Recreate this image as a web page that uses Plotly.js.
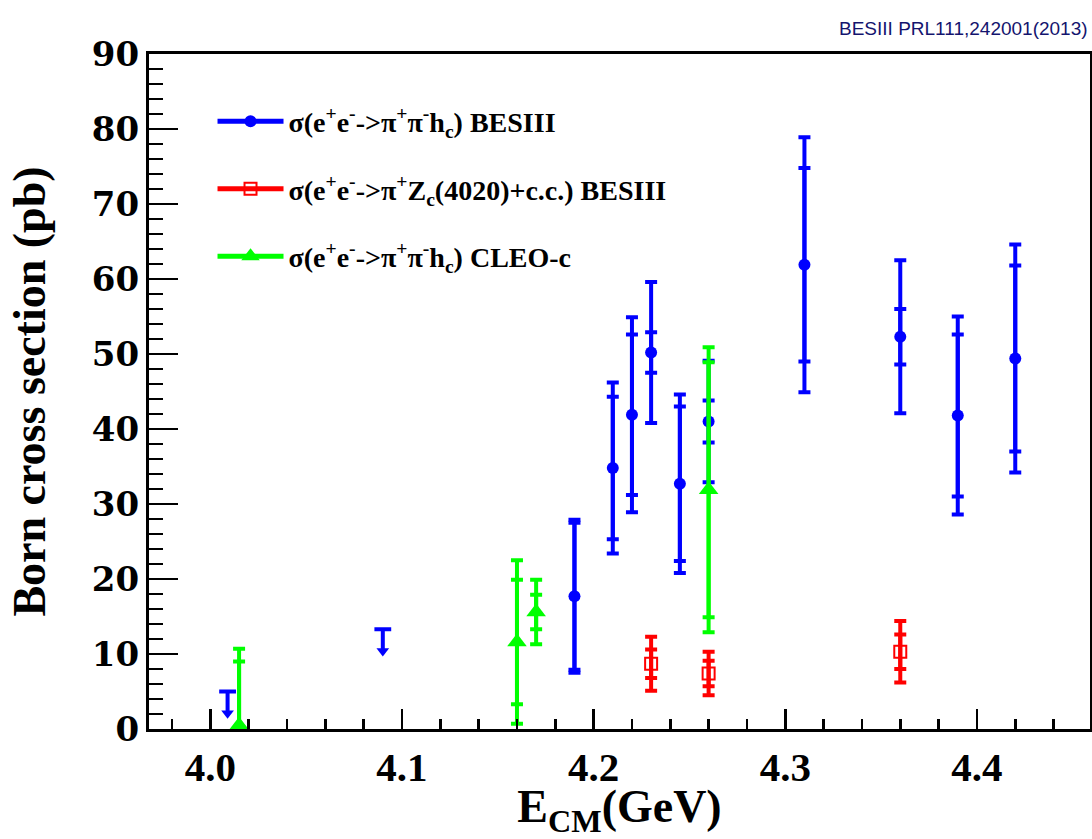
<!DOCTYPE html>
<html><head><meta charset="utf-8">
<script src="https://cdn.plot.ly/plotly-3.0.1.min.js"></script>
<style>body{margin:0;background:#fff}#chart{width:1092px;height:839px}</style>
</head><body><div id="chart"></div><script>
// BESIII sigma(e+e- -> pi+pi- hc)
const besE    = [4.19, 4.21, 4.22, 4.23, 4.245, 4.26, 4.31, 4.36, 4.39, 4.42];
const besV    = [17.7, 34.8, 41.9, 50.2, 32.7, 41.0, 61.9, 52.3, 41.8, 49.4];
const besStat = [9.8, 9.5, 10.7, 2.7, 10.3, 2.8, 12.9, 3.7, 10.8, 12.4];
const besTot  = [10.2, 11.4, 13.0, 9.4, 11.9, 8.1, 17.0, 10.2, 13.2, 15.2];
// BESIII upper limits
const ulE = [4.009, 4.09];
const ulV = [5.0, 13.3];
// BESIII sigma(e+e- -> pi+ Zc(4020) + c.c.)
const zcE    = [4.23, 4.26, 4.36];
const zcV    = [8.7, 7.4, 10.3];
const zcStat = [1.9, 1.7, 2.3];
const zcTot  = [3.6, 2.9, 4.1];
// CLEO-c sigma(e+e- -> pi+pi- hc)
const cleoE    = [4.015, 4.16, 4.17, 4.26];
const cleoV    = [0.5, 11.6, 15.6, 31.9];
const cleoStat = [8.5, 8.3, 2.3, 17.0];
const cleoTot  = [10.2, 10.9, 4.3, 19.0];

const legendNames = [
  'σ(e<sup>+</sup>e<sup>-</sup>-&gt;π<sup>+</sup>π<sup>-</sup>h<sub>c</sub>) BESIII',
  'σ(e<sup>+</sup>e<sup>-</sup>-&gt;π<sup>+</sup>Z<sub>c</sub>(4020)+c.c.) BESIII',
  'σ(e<sup>+</sup>e<sup>-</sup>-&gt;π<sup>+</sup>π<sup>-</sup>h<sub>c</sub>) CLEO-c'
];

const BLUE = '#0000ff', RED = '#ff0000', GREEN = '#00ff00';
const ARROW = 2.9;   // arrow length of upper limit (in pb)
const SERIF = 'Liberation Serif, Times New Roman, serif';

function errTrace(x, y, err, color, marker, cw) {
  return {
    type: 'scatter', mode: 'markers', x: x, y: y, showlegend: false, hoverinfo: 'skip',
    marker: marker || {size: 1, color: 'rgba(0,0,0,0)'},
    error_y: {type: 'data', array: err, visible: true, color: color, thickness: 4, width: cw || 6}
  };
}

// upper-limit stems
const stemX = [], stemY = [];
ulE.forEach((e, i) => { stemX.push(e, e, null); stemY.push(ulV[i], ulV[i] - ARROW, null); });

const traces = [
  errTrace(besE, besV, besTot, BLUE),
  errTrace(besE, besV, besStat, BLUE, {symbol: 'circle', size: 12, color: BLUE}),
  {type: 'scatter', mode: 'lines', x: stemX, y: stemY, showlegend: false, hoverinfo: 'skip',
   line: {color: BLUE, width: 4}},
  {type: 'scatter', mode: 'markers', x: ulE, y: ulV, showlegend: false, hoverinfo: 'skip',
   marker: {symbol: 'line-ew', size: 12, line: {color: BLUE, width: 4}}},
  {type: 'scatter', mode: 'markers', x: ulE, y: ulV.map(v => v - ARROW), showlegend: false, hoverinfo: 'skip',
   marker: {symbol: 'triangle-down', size: 11, color: BLUE}},
  errTrace(zcE, zcV, zcTot, RED),
  errTrace(zcE, zcV, zcStat, RED, {symbol: 'square-open', size: 12, color: RED, line: {width: 2, color: RED}}),
  errTrace(cleoE, cleoV, cleoTot, GREEN),
  errTrace(cleoE, cleoV, cleoStat, GREEN, {symbol: 'triangle-up', size: 17, color: GREEN}),
  // legend entries
  {type: 'scatter', mode: 'lines+markers', x: [null], y: [null], name: legendNames[0], legend: 'legend',
   line: {color: BLUE, width: 5}, marker: {symbol: 'circle', size: 12, color: BLUE}},
  {type: 'scatter', mode: 'lines+markers', x: [null], y: [null], name: legendNames[1], legend: 'legend2',
   line: {color: RED, width: 5}, marker: {symbol: 'square-open', size: 12, color: RED, line: {width: 2, color: RED}}},
  {type: 'scatter', mode: 'lines+markers', x: [null], y: [null], name: legendNames[2], legend: 'legend3',
   line: {color: GREEN, width: 5}, marker: {symbol: 'triangle-up', size: 17, color: GREEN}}
];

function leg(y) {
  return {x: 0.0675, y: y, xanchor: 'left', yanchor: 'middle', bgcolor: 'rgba(0,0,0,0)',
          itemwidth: 66, font: {family: SERIF, size: 28, color: '#000', weight: 'bold'}};
}

const layout = {
  width: 1092, height: 839,
  margin: {l: 149, r: 2, t: 54, b: 110},
  paper_bgcolor: '#fff', plot_bgcolor: '#fff',
  showlegend: true,
  legend: leg(0.9), legend2: leg(0.8), legend3: leg(0.7),
  xaxis: {
    range: [3.968, 4.459], tickmode: 'linear', tick0: 4.0, dtick: 0.1, tickformat: '.1f',
    ticks: 'inside', ticklen: 20, tickwidth: 2.5, tickcolor: '#000',
    minor: {dtick: 0.02, ticks: 'inside', ticklen: 10, tickwidth: 2.5, tickcolor: '#000'},
    showline: true, linewidth: 3, linecolor: '#000', mirror: true, showgrid: false, zeroline: false,
    tickfont: {family: SERIF, size: 41, color: '#000', weight: 'bold'},
    title: {text: 'E<sub>CM</sub>(GeV)', font: {family: SERIF, size: 46, color: '#000', weight: 'bold'}, standoff: 0}
  },
  yaxis: {
    range: [0, 90], tickmode: 'linear', tick0: 0, dtick: 10,
    ticks: 'inside', ticklen: 29, tickwidth: 2.5, tickcolor: '#000',
    minor: {dtick: 2, ticks: 'inside', ticklen: 14, tickwidth: 2.5, tickcolor: '#000'},
    showline: true, linewidth: 3, linecolor: '#000', mirror: true, showgrid: false, zeroline: false,
    tickfont: {family: 'DejaVu Serif, serif', size: 34, color: '#000', weight: 'bold'},
    title: {text: 'Born cross section (pb)', font: {family: SERIF, size: 46, color: '#000', weight: 'bold'}, standoff: 32}
  },
  annotations: [{
    xref: 'paper', yref: 'paper', x: 1, y: 1.0385, xanchor: 'right', yanchor: 'middle', showarrow: false,
    text: 'BESIII PRL111,242001(2013)',
    font: {family: 'Liberation Sans, sans-serif', size: 19, color: '#14146e'}
  }]
};

Plotly.newPlot('chart', traces, layout, {displayModeBar: false, staticPlot: true});
</script></body></html>
